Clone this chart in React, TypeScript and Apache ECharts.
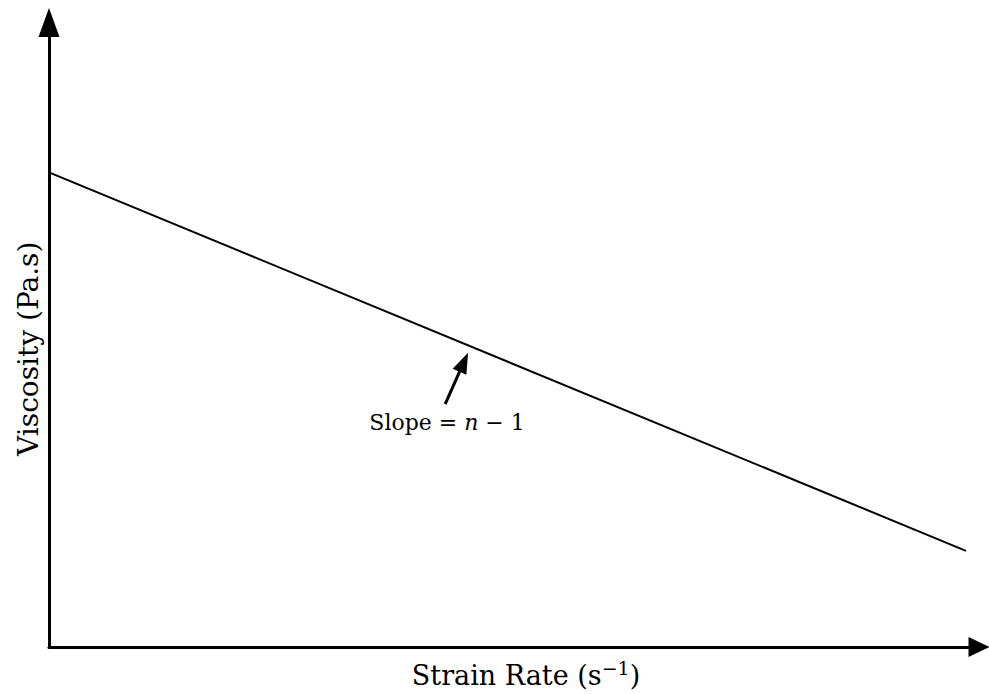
import React, { useEffect, useRef } from "react";
import * as echarts from "echarts";

// Power-law fluid on log–log axes: straight line, slope n − 1
const strainRate = [0, 98.6];
const viscosity = [76, 15.4];

// Pointer to the line, from tail to head, in data units
const slopeArrowFrom = [42.6, 38.9];
const slopeArrowTo = [44.6, 45.6];
const slopeLabelAt = [42.8, 35.9];

const AXIS_MAX = 100;
const FONT = "DejaVu Serif";

export default function App() {
  const ref = useRef<HTMLDivElement>(null);

  useEffect(() => {
    document.body.style.margin = "0";
    const chart = echarts.init(ref.current!, null, { renderer: "svg" });

    const hiddenAxis = {
      type: "value" as const,
      min: 0,
      max: AXIS_MAX,
      splitLine: { show: false },
      axisTick: { show: false },
      axisLabel: { show: false },
    };

    chart.setOption({
      animation: false,
      backgroundColor: "#ffffff",
      grid: { left: 49, right: 10, top: 22.5, bottom: 43 },
      xAxis: {
        ...hiddenAxis,
        name: "Strain Rate (s{sup|−1})",
        nameLocation: "middle",
        nameGap: 11,
        nameTextStyle: {
          fontFamily: FONT,
          fontSize: 27,
          color: "#000",
          padding: [0, 0, 0, 24],
          rich: {
            sup: {
              fontFamily: FONT,
              fontSize: 19,
              color: "#000",
              verticalAlign: "top",
              padding: [0, 0, 16, 0],
            },
          },
        },
        axisLine: {
          show: true,
          onZero: false,
          symbol: ["none", "triangle"],
          symbolSize: [20, 21],
          lineStyle: { color: "#000", width: 3 },
        },
      },
      yAxis: {
        ...hiddenAxis,
        name: "Viscosity (Pa.s)",
        nameLocation: "middle",
        nameGap: 7,
        nameTextStyle: {
          fontFamily: FONT,
          fontSize: 28,
          color: "#000",
          padding: [0, 28, 0, 0],
        },
        axisLine: {
          show: true,
          onZero: false,
          symbol: ["none", "triangle"],
          symbolSize: [21, 29],
          lineStyle: { color: "#000", width: 3 },
        },
      },
      series: [
        {
          type: "line",
          data: strainRate.map((x, i) => [x, viscosity[i]]),
          showSymbol: false,
          lineStyle: { color: "#000", width: 2 },
          markLine: {
            silent: true,
            symbol: ["none", "triangle"],
            symbolSize: [15, 21],
            label: { show: false },
            lineStyle: { color: "#000", width: 3, type: "solid" },
            data: [[{ coord: slopeArrowFrom }, { coord: slopeArrowTo }]],
          },
          markPoint: {
            silent: true,
            symbol: "circle",
            symbolSize: 1,
            itemStyle: { color: "rgba(0,0,0,0)" },
            label: {
              show: true,
              position: "inside",
              formatter: "{a|Slope = }{i|n}{a| − 1}",
              rich: {
                a: { fontFamily: FONT, fontSize: 22, color: "#000" },
                i: { fontFamily: FONT, fontSize: 22, color: "#000", fontStyle: "italic" },
              },
            },
            data: [{ coord: slopeLabelAt }],
          },
        },
      ],
    });

    return () => chart.dispose();
  }, []);

  return <div ref={ref} style={{ width: 989, height: 694 }} />;
}
